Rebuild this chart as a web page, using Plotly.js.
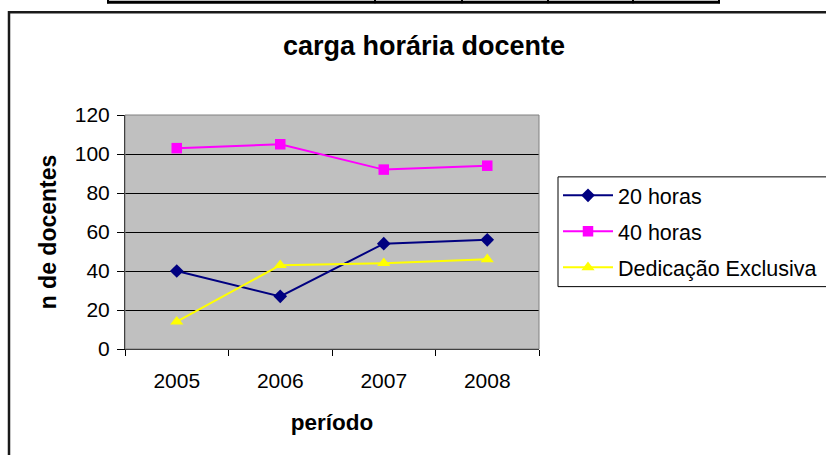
<!DOCTYPE html>
<html>
<head>
<meta charset="utf-8">
<script src="https://cdn.plot.ly/plotly-3.0.1.min.js"></script>
<style>
html,body{margin:0;padding:0;background:#fff;}
#chart{width:826px;height:455px;}
</style>
</head>
<body>
<div id="chart"></div>
<script>
var categories = ['2005', '2006', '2007', '2008'];
var seriesNames = ['20 horas', '40 horas', 'Dedicação Exclusiva'];
var horas20 = [40, 27, 54, 56];
var horas40 = [103, 105, 92, 94];
var dedicacao = [14, 43, 44, 46];
var yTicks = [0, 20, 40, 60, 80, 100, 120];

var W = 826, H = 455;
var M = {l: 125, r: 287, t: 115, b: 105.5};
var PW = W - M.l - M.r, PH = H - M.t - M.b;
function px(x) { return (x - M.l) / PW; }
function py(y) { return (H - M.b - y) / PH; }

var FONT = '"Liberation Sans", Arial, sans-serif';

var traces = [
  {x: categories, y: horas20, name: seriesNames[0], type: 'scatter', mode: 'lines+markers',
   line: {color: '#000080', width: 2}, marker: {symbol: 'diamond', size: 10.5, color: '#000080'},
   legendgroup: 'a'},
  {x: categories, y: horas40, name: seriesNames[1], type: 'scatter', mode: 'lines+markers',
   line: {color: '#FF00FF', width: 2}, marker: {symbol: 'square', size: 10.5, color: '#FF00FF'},
   legendgroup: 'b'},
  {x: categories, y: dedicacao, name: seriesNames[2], type: 'scatter', mode: 'lines+markers',
   line: {color: '#FFFF00', width: 2}, marker: {symbol: 'triangle-up', size: 11.5, color: '#FFFF00'},
   legendgroup: 'c'}
];

var shapes = [
  // outer chart frame
  {type: 'rect', xref: 'paper', yref: 'paper', x0: px(9), x1: px(845), y0: py(475), y1: py(12),
   line: {color: '#1a1a1a', width: 2.5}, fillcolor: 'rgba(0,0,0,0)', layer: 'below'},
  // plot area border
  {type: 'rect', xref: 'paper', yref: 'paper', x0: 0, x1: 1, y0: 0, y1: 1,
   line: {color: '#808080', width: 1}, fillcolor: 'rgba(0,0,0,0)', layer: 'above'},
  // legend frame (runs past the right edge, as in the original)
  {type: 'rect', xref: 'paper', yref: 'paper', x0: px(558), x1: px(850), y0: py(287), y1: py(177),
   line: {color: '#000', width: 1}, fillcolor: '#ffffff', layer: 'below'},
  // table fragment at top
  {type: 'line', xref: 'paper', yref: 'paper', x0: px(107), x1: px(720), y0: py(2), y1: py(2),
   line: {color: '#000', width: 3}}
];
[108, 375, 462, 548, 633, 719].forEach(function (x) {
  shapes.push({type: 'line', xref: 'paper', yref: 'paper', x0: px(x), x1: px(x), y0: py(-3), y1: py(3),
    line: {color: '#000', width: 2}});
});

var layout = {
  width: W, height: H,
  margin: {l: M.l, r: M.r, t: M.t, b: M.b, autoexpand: false},
  paper_bgcolor: '#ffffff',
  plot_bgcolor: '#C0C0C0',
  font: {family: FONT, color: '#000', size: 21},
  title: {text: '<b>carga horária docente</b>', font: {family: FONT, size: 27, color: '#000'},
          xref: 'container', yref: 'container', x: 424 / W, xanchor: 'center',
          y: 1 - 46 / H, yanchor: 'middle'},
  xaxis: {
    type: 'category', range: [-0.5, 3.5], fixedrange: true,
    showline: true, linecolor: '#000', linewidth: 1,
    ticks: 'outside', tickson: 'boundaries', ticklen: 6, tickcolor: '#000', tickwidth: 1,
    showgrid: false, zeroline: false,
    tickfont: {family: FONT, size: 21, color: '#000'},
    ticklabelstandoff: 13,
    title: {text: '<b>período</b>', font: {family: FONT, size: 22.5, color: '#000'}, standoff: 23}
  },
  yaxis: {
    range: [0, 120], tickvals: yTicks, fixedrange: true,
    showline: true, linecolor: '#000', linewidth: 1,
    ticks: 'outside', ticklen: 7, tickcolor: '#000', tickwidth: 1,
    showgrid: true, gridcolor: '#000', gridwidth: 1, zeroline: false,
    tickfont: {family: FONT, size: 21, color: '#000'},
    ticklabelstandoff: 3,
    title: {text: '<b>n de docentes</b>', font: {family: FONT, size: 23, color: '#000'}, standoff: 11}
  },
  legend: {
    x: px(558), xanchor: 'left', y: py(175), yanchor: 'top',
    bgcolor: 'rgba(0,0,0,0)', borderwidth: 0,
    font: {family: FONT, size: 21.5, color: '#000'},
    tracegroupgap: 5, itemwidth: 50,
    traceorder: 'grouped'
  },
  showlegend: true,
  shapes: shapes,
  hovermode: false
};

Plotly.newPlot('chart', traces, layout, {displayModeBar: false, staticPlot: true});
</script>
</body>
</html>
